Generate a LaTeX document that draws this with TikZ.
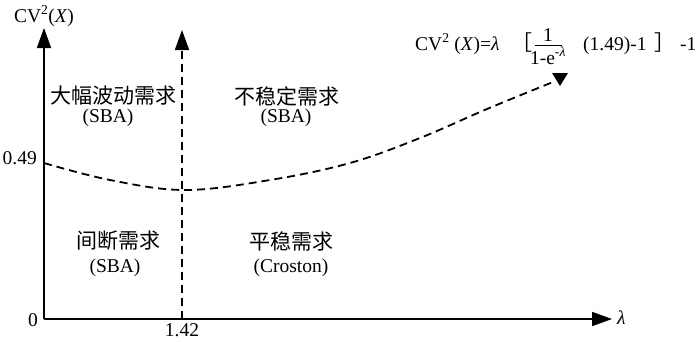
\documentclass[tikz,border=0pt]{standalone}
\usepackage{fontspec}
\setmainfont{Liberation Serif}
\newfontfamily\cjk{Noto Sans CJK SC}
\usetikzlibrary{arrows.meta}
\begin{document}
\begin{tikzpicture}[x=1pt,y=-1pt,
  every node/.style={font=\fontsize{19.5}{22}\selectfont, inner sep=0pt},
  cjklbl/.style={font=\fontsize{21}{24}\cjk},
  axisline/.style={line width=1.8pt, -{Triangle[length=20pt,width=14pt]}},
  dashline/.style={line width=1.8pt, dash pattern=on 8pt off 5pt}]
\useasboundingbox (0,0) rectangle (700,341);
% axes
\coordinate (O) at (44,319);
\coordinate (ytop) at (44,28);
\coordinate (xend) at (612,319);
\draw[axisline] (O) -- (ytop);
\draw[axisline] (O) -- (xend);
% vertical dashed
\coordinate (vb) at (182,319);
\coordinate (vt) at (182,30);
\draw[dashline, -{Triangle[length=20pt,width=14pt]}] (vb) -- (vt);
% curve
\draw[dashline] plot[smooth, tension=0.6] coordinates {(44,163) (110,180) (185,190) (270,180) (350,163) (420,138) (487,109) (553,82)};
\fill (552,73) -- (568,73) -- (560,86) -- cycle;
% axis labels
\node[anchor=base] (cvlab) at (44,22) {CV\textsuperscript{2}(\textit{X})};
\node[anchor=east] (l049) at (37,158) {0.49};
\node[anchor=east] (l0) at (38,320) {0};
\node[anchor=base] (l142) at (182,336) {1.42};
\node[anchor=west] (llam) at (617,318) {\textit{λ}};
% region labels
\node[cjklbl] (r1) at (113,96) {大幅波动需求};
\node (r1b) at (108,118) {(SBA)};
\node[cjklbl] (r2) at (287,96) {不稳定需求};
\node (r2b) at (286,118) {(SBA)};
\node[cjklbl] (r3) at (118,241) {间断需求};
\node (r3b) at (115,268) {(SBA)};
\node[cjklbl] (r4) at (291,241) {平稳需求};
\node (r4b) at (291,268) {(Croston)};
% formula
\node[anchor=base west] (f1) at (415,50) {CV\textsuperscript{2} (\textit{X})=\textit{λ}};
\node[anchor=base, font=\fontsize{21}{24}\cjk] (f2) at (522,50) {［};
\node[anchor=base] (fnum) at (548,41) {1};
\draw[line width=0.8pt] (535,45) -- (562,45) coordinate (fbar);
\node[anchor=base] (fden) at (548,64) {1-e\textsuperscript{-\textit{λ}}};
\node[anchor=base west] (f3) at (583,50) {(1.49)-1};
\node[anchor=base, font=\fontsize{21}{24}\cjk] (f4) at (665,50) {］};
\node[anchor=base west] (f5) at (680,50) {-1};
\end{tikzpicture}
\end{document}
